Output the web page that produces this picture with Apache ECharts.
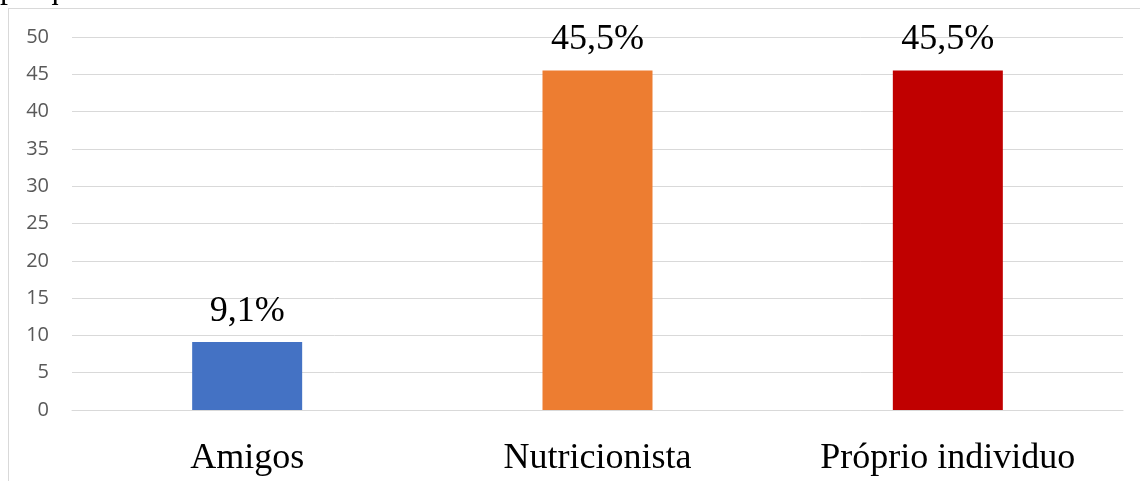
<!DOCTYPE html>
<html>
<head>
<meta charset="utf-8">
<style>
  html, body { margin: 0; padding: 0; background: #fff; }
  #chart { width: 1140px; height: 481px; }
</style>
<script src="https://cdn.jsdelivr.net/npm/echarts@6/dist/echarts.min.js"></script>
</head>
<body>
<div id="chart"></div>
<script>
// Who gave the guidance (percent of respondents)
const categories = ['Amigos', 'Nutricionista', 'Próprio individuo'];
const values = [9.1, 45.5, 45.5];
const barColors = ['#4472C4', '#ED7D31', '#C00000'];
const yTicks = { min: 0, max: 50, step: 5 };

const chart = echarts.init(document.getElementById('chart'), null, { renderer: 'canvas' });

const serif = '"Liberation Serif", "Times New Roman", serif';
const sans = '"Open Sans", "Liberation Sans", Arial, sans-serif';

chart.setOption({
  animation: false,
  backgroundColor: '#ffffff',
  graphic: [
    // caption line above the frame, cut off by the top edge
    { type: 'text', left: 0, top: -26, style: { text: 'pesquisa.', font: '32px ' + serif, fill: '#000' } },
    // chart frame
    { type: 'line', shape: { x1: 8, y1: 8.5, x2: 1140, y2: 8.5 }, style: { stroke: '#d9d9d9', lineWidth: 1 } },
    { type: 'line', shape: { x1: 8.5, y1: 8, x2: 8.5, y2: 481 }, style: { stroke: '#d9d9d9', lineWidth: 1 } }
  ],
  grid: { left: 72, right: 17, top: 37, bottom: 71, containLabel: false },
  xAxis: {
    type: 'category',
    data: categories,
    axisLine: { show: true, lineStyle: { color: '#d9d9d9', width: 1 } },
    axisTick: { show: false },
    axisLabel: { color: '#000', fontFamily: serif, fontSize: 36, margin: 31 }
  },
  yAxis: {
    type: 'value',
    min: yTicks.min,
    max: yTicks.max,
    interval: yTicks.step,
    axisLine: { show: false },
    axisTick: { show: false },
    splitLine: { lineStyle: { color: '#d9d9d9', width: 1 } },
    axisLabel: { color: '#595959', fontFamily: sans, fontSize: 20, margin: 23 }
  },
  series: [{
    type: 'bar',
    barWidth: 110,
    data: values.map((v, i) => ({ value: v, itemStyle: { color: barColors[i] } })),
    label: {
      show: true,
      position: 'top',
      distance: 13,
      color: '#000',
      fontFamily: serif,
      fontSize: 36,
      formatter: p => p.value.toFixed(1).replace('.', ',') + '%'
    }
  }]
});
</script>
</body>
</html>
